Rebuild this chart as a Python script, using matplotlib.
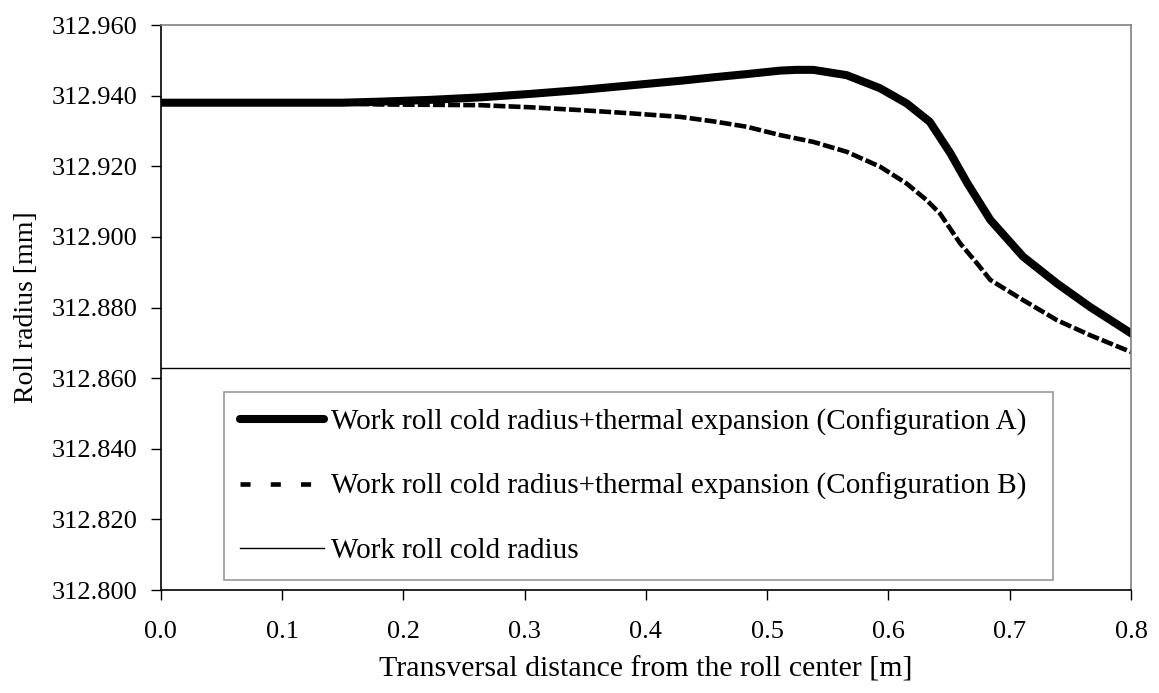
import numpy as np
import matplotlib
matplotlib.use("Agg")
from matplotlib import pyplot as plt
from matplotlib.lines import Line2D

plt.rcParams['font.family'] = ['Liberation Serif', 'DejaVu Serif']

# values
x_a = [0.0, 0.05, 0.10, 0.15, 0.181, 0.222, 0.263, 0.305, 0.346, 0.387, 0.428, 0.456, 0.483,
       0.511, 0.524, 0.538, 0.5655, 0.593, 0.615, 0.634, 0.651, 0.665, 0.684, 0.711, 0.739,
       0.766, 0.80]
r_a = [312.938, 312.938, 312.938, 312.938, 312.9383, 312.9388, 312.9395, 312.9405, 312.9416,
       312.9429, 312.9442, 312.9452, 312.9461, 312.9471, 312.9473, 312.9473, 312.9458, 312.9421,
       312.9378, 312.9326, 312.9237, 312.9152, 312.9048, 312.8944, 312.8868, 312.8802, 312.8727]

x_b = [0.0, 0.05, 0.10, 0.15, 0.181, 0.222, 0.263, 0.305, 0.346, 0.387, 0.428, 0.456, 0.483,
       0.511, 0.538, 0.5655, 0.593, 0.615, 0.6315, 0.6425, 0.659, 0.673, 0.684, 0.711, 0.739,
       0.766, 0.80]
r_b = [312.938, 312.938, 312.938, 312.9378, 312.9375, 312.9374, 312.9373, 312.9367, 312.9359,
       312.9350, 312.9340, 312.9327, 312.9312, 312.9288, 312.9269, 312.9241, 312.9199, 312.9151,
       312.9104, 312.9066, 312.8982, 312.8925, 312.8878, 312.8821, 312.8764, 312.8722, 312.8674]

x_cold = [0.0, 0.8]
r_cold = [312.863, 312.863]

labels = ['Work roll cold radius+thermal expansion (Configuration A)',
          'Work roll cold radius+thermal expansion (Configuration B)',
          'Work roll cold radius']

fig = plt.figure(figsize=(11.59, 6.93), dpi=100)
ax = fig.add_axes([0.1387, 0.1486, 0.8372, 0.8153])

ax.plot(x_a, r_a, color='black', lw=5.8, solid_joinstyle='round')
ax.plot(x_b, r_b, color='black', lw=3.3, dashes=(2.6, 0.7))
ax.plot(x_cold, r_cold, color='black', lw=1.0)

ax.set_xlim(0, 0.8)
ax.set_ylim(312.800, 312.960)
ax.set_xticks(np.arange(0, 0.81, 0.1))
ax.set_yticks(np.arange(312.800, 312.961, 0.02))
ax.set_xticklabels(['%.1f' % v for v in np.arange(0, 0.81, 0.1)])
ax.set_yticklabels(['%.3f' % v for v in np.arange(312.800, 312.961, 0.02)])
ax.tick_params(labelsize=19, length=7, width=1, direction='out', color='black')
ax.tick_params(axis='x', pad=15)
ax.tick_params(axis='y', pad=10)

for s in ['top', 'right']:
    ax.spines[s].set_color('#808080')
    ax.spines[s].set_linewidth(1.2)
for s in ['left', 'bottom']:
    ax.spines[s].set_color('black')
    ax.spines[s].set_linewidth(1.2)

ax.set_xlabel('Transversal distance from the roll center [m]', fontsize=21.5, labelpad=10)
ax.set_ylabel('Roll radius [mm]', fontsize=20, labelpad=9)

handles = [Line2D([], [], color='black', lw=5.8, solid_capstyle='round'),
           Line2D([], [], color='black', lw=3.3, dashes=(2.2, 4.4)),
           Line2D([], [], color='black', lw=1.0)]
leg = ax.legend(handles, labels, loc='lower left',
                bbox_to_anchor=(0.065, 0.0177, 0.855, 0.334), mode='expand',
                fontsize=21, frameon=True, fancybox=False, edgecolor='#808080',
                handlelength=2.88, handletextpad=0.24, labelspacing=1.28,
                borderaxespad=0, borderpad=0.55)
leg.get_frame().set_linewidth(1.2)

fig.savefig('out.png', dpi=100)
